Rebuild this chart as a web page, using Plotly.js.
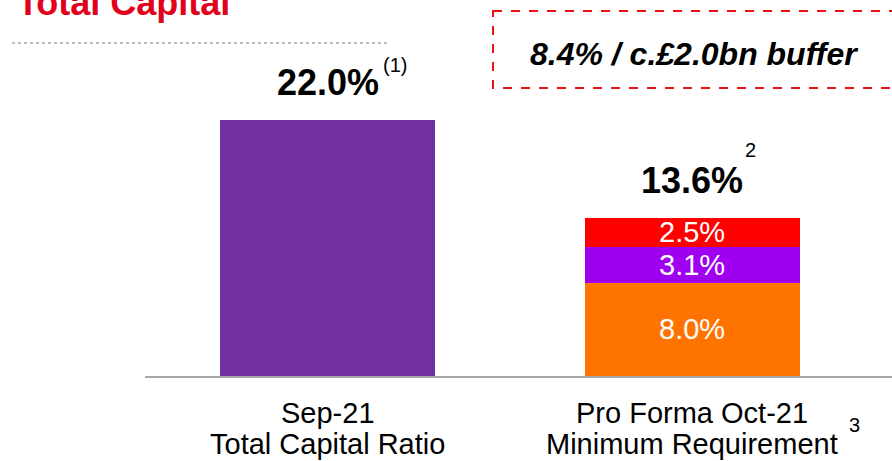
<!DOCTYPE html>
<html>
<head>
<meta charset="utf-8">
<script src="https://cdn.plot.ly/plotly-3.0.1.min.js"></script>
<style>
html,body{margin:0;padding:0;background:#fff;}
#chart{width:892px;height:461px;}
</style>
</head>
<body>
<div id="chart"></div>
<script>
// ---- data ----
const categories = ['Sep-21', 'Pro Forma Oct-21'];
const categoryLine2 = ['Total Capital Ratio', 'Minimum Requirement'];
const totalCapitalRatio = [22.0, null];
const minimumBase = [null, 8.0];
const pillar2A = [null, 3.1];
const buffers = [null, 2.5];
const totalLabels = ['22.0%', '13.6%'];
const totals = [22.0, 13.6];
const footnotes = ['(1)', '2'];
const titleText = 'Total Capital';
const bufferText = '8.4% / c.£2.0bn buffer';
const categoryFootnote = '3';

// ---- geometry helpers (pixel -> paper) ----
const L = 145, R = 0, T = 0, B = 85, W = 892, H = 461;
const pw = W - L - R, ph = H - T - B;
const px = x => (x - L) / pw;
const py = y => (H - B - y) / ph;

const FONT = 'Liberation Sans, Arial, sans-serif';
const barW = 0.589;

const traces = [
  {type: 'bar', name: 'Total Capital Ratio', x: categories, y: totalCapitalRatio,
   marker: {color: '#7030a0'}, width: barW, hoverinfo: 'none'},
  {type: 'bar', name: 'Minimum', x: categories, y: minimumBase,
   marker: {color: '#ff7300'}, width: barW, hoverinfo: 'none'},
  {type: 'bar', name: 'Pillar 2A', x: categories, y: pillar2A,
   marker: {color: '#a000f0'}, width: barW, hoverinfo: 'none'},
  {type: 'bar', name: 'Buffers', x: categories, y: buffers,
   marker: {color: '#ff0000'}, width: barW, hoverinfo: 'none'}
];

const annotations = [];
// segment labels (white, centered in each stacked segment)
const stackSeries = [minimumBase, pillar2A, buffers];
categories.forEach((c, i) => {
  let base = 0;
  stackSeries.forEach(s => {
    if (s[i] != null) {
      annotations.push({x: c, y: base + s[i] / 2, xref: 'x', yref: 'y',
        text: s[i].toFixed(1) + '%', showarrow: false,
        font: {family: FONT, size: 29, color: '#ffffff'},
        xanchor: 'center', yanchor: 'middle'});
      base += s[i];
    }
  });
});
// total labels above bars
categories.forEach((c, i) => {
  annotations.push({x: c, y: totals[i], xref: 'x', yref: 'y',
    text: '<b>' + totalLabels[i] + '</b>', showarrow: false,
    font: {family: FONT, size: 36, color: '#000000'},
    xanchor: 'center', yanchor: 'middle', yshift: 37});
});
// footnote superscripts
const fnPos = [[395, 65], [750, 150]];
footnotes.forEach((f, i) => {
  annotations.push({x: px(fnPos[i][0]), y: py(fnPos[i][1]), xref: 'paper', yref: 'paper',
    text: f, showarrow: false, font: {family: FONT, size: 20, color: '#000000'},
    xanchor: 'center', yanchor: 'middle'});
});
// category labels (two lines)
categories.forEach((c, i) => {
  annotations.push({x: c, y: py(413), xref: 'x', yref: 'paper', text: c, showarrow: false,
    font: {family: FONT, size: 29, color: '#000000'}, xanchor: 'center', yanchor: 'middle'});
  annotations.push({x: c, y: py(444), xref: 'x', yref: 'paper', text: categoryLine2[i], showarrow: false,
    font: {family: FONT, size: 29, color: '#000000'}, xanchor: 'center', yanchor: 'middle'});
});
annotations.push({x: px(854), y: py(425), xref: 'paper', yref: 'paper', text: categoryFootnote,
  showarrow: false, font: {family: FONT, size: 20, color: '#000000'}, xanchor: 'center', yanchor: 'middle'});
// title
annotations.push({x: px(15), y: py(2), xref: 'paper', yref: 'paper', text: '<b>' + titleText + '</b>',
  showarrow: false, font: {family: FONT, size: 36, color: '#e3001b'}, xanchor: 'left', yanchor: 'middle'});
// buffer box text
annotations.push({x: px(694), y: py(54), xref: 'paper', yref: 'paper',
  text: '<b><i>' + bufferText + '</i></b>', showarrow: false,
  font: {family: FONT, size: 32, color: '#000000'}, xanchor: 'center', yanchor: 'middle'});

const shapes = [
  {type: 'line', xref: 'paper', yref: 'paper', x0: px(12), x1: px(390), y0: py(43), y1: py(43),
   line: {color: '#7a7a7a', width: 1, dash: 'dot'}},
  {type: 'rect', xref: 'paper', yref: 'paper', x0: px(493), x1: px(905), y0: py(11), y1: py(88),
   line: {color: '#ee1111', width: 2, dash: 'dash'}, fillcolor: 'rgba(0,0,0,0)'}
];

const layout = {
  width: W, height: H,
  margin: {l: L, r: R, t: T, b: B, pad: 0},
  paper_bgcolor: '#ffffff', plot_bgcolor: '#ffffff',
  barmode: 'stack', showlegend: false,
  xaxis: {type: 'category', range: [-0.5, 1.5466], showticklabels: false, ticks: '',
    showgrid: false, zeroline: false, showline: true, linecolor: '#a6a6a6', linewidth: 2, fixedrange: true},
  yaxis: {range: [0, 32.3], visible: false, showgrid: false, zeroline: false, fixedrange: true},
  annotations: annotations,
  shapes: shapes,
  font: {family: FONT}
};

Plotly.newPlot('chart', traces, layout, {displayModeBar: false, staticPlot: true});
</script>
</body>
</html>
